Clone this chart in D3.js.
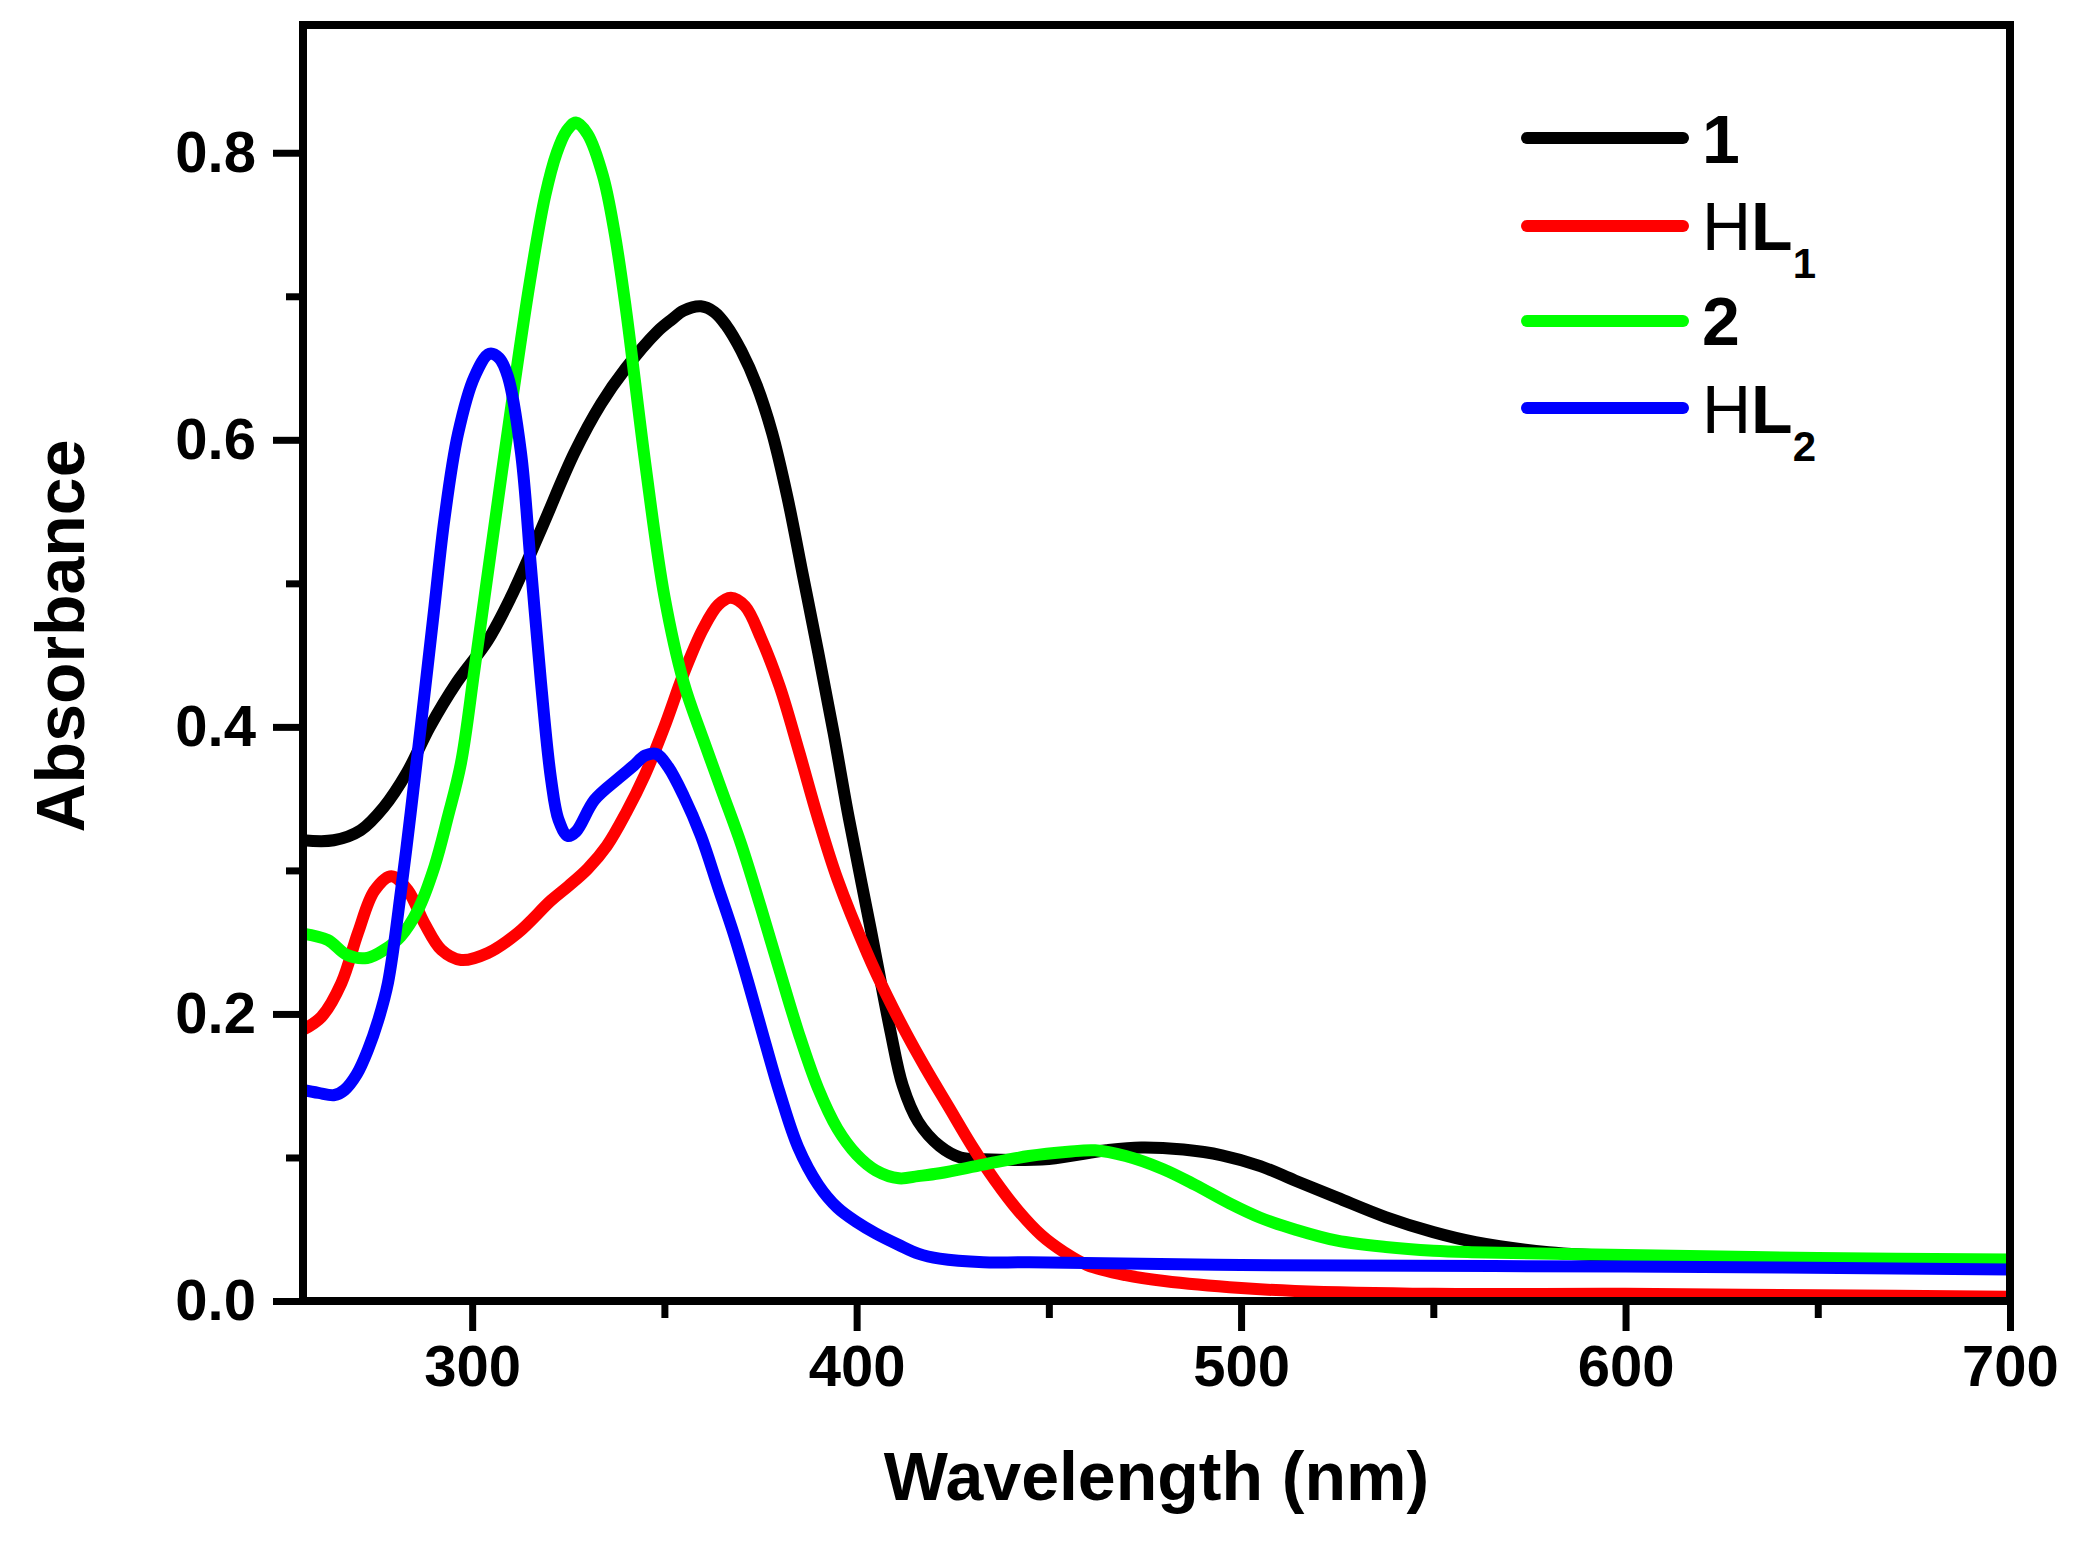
<!DOCTYPE html>
<html>
<head>
<meta charset="utf-8">
<script src="https://cdn.jsdelivr.net/npm/d3@7"></script>
<style>
  html, body { margin: 0; padding: 0; background: #fff; }
  svg text { font-family: "Liberation Sans", Arial, sans-serif; }
</style>
</head>
<body>
<svg id="chart" width="2080" height="1542"></svg>
<script>
// ---- data (wavelength nm, absorbance) ----
const wl1 = [256,264,271,277,283,289,296,304,310,318,326.6,333.5,340,348,352,355,359.5,363,366,370,374,378,382,386,390,394,398,403.6,408.8,412,416,421.6,427,433,450,465,474,485,495,505,514,525,537.6,550,561,580,600,650,700];
const abs1 = [0.321,0.321,0.328,0.344,0.368,0.400,0.431,0.46,0.49,0.538,0.591,0.625,0.65,0.675,0.684,0.69,0.693,0.689,0.68,0.662,0.638,0.605,0.56,0.506,0.452,0.396,0.336,0.26,0.188,0.15,0.125,0.108,0.1,0.0987,0.099,0.105,0.107,0.1055,0.1015,0.094,0.084,0.072,0.0585,0.048,0.041,0.034,0.031,0.029,0.028];

const wlHL1 = [256,260.8,266,270.3,274.6,279,283.3,287.6,292,297.1,304.1,311.9,320.5,325,330,335,340,345,350,355,360,364,367.3,371,375.1,380,385,390,395,402.8,408,413,418,424,430,436,442,448,454,460,470,480,500,514,550,600,650,700];
const absHL1 = [0.189,0.198,0.2216,0.2565,0.286,0.296,0.286,0.263,0.2446,0.2376,0.2425,0.2565,0.279,0.289,0.301,0.317,0.34,0.367,0.4,0.437,0.468,0.485,0.49,0.484,0.462,0.428,0.383,0.336,0.294,0.242,0.212,0.186,0.162,0.135,0.108,0.084,0.063,0.046,0.034,0.025,0.018,0.0139,0.009,0.007,0.005,0.005,0.004,0.003];

const wl2 = [256,262.4,267.5,272.7,277.1,281.4,285.9,290.2,293.7,297.1,300.6,305,310,315,319,322,324.5,327,330,334,337,340,345,350,355,360,365,370,375,380,385,390,395,400,405,411,416,421.6,433,444.8,455,462,470,479.6,488,497,505,514.4,525,537.6,550,560,600,650,700];
const abs2 = [0.256,0.2516,0.241,0.239,0.2446,0.254,0.2725,0.3027,0.3375,0.375,0.44,0.525,0.62,0.71,0.77,0.80,0.815,0.821,0.813,0.784,0.745,0.691,0.584,0.491,0.431,0.392,0.355,0.318,0.275,0.23,0.186,0.148,0.12,0.102,0.091,0.0855,0.087,0.089,0.095,0.101,0.104,0.105,0.101,0.092,0.081,0.068,0.058,0.0495,0.042,0.0376,0.035,0.034,0.032,0.030,0.029];

const wlHL2 = [256,260,264.2,266.8,270,272.9,275.5,278.1,281.6,284,286.8,290.2,292.8,296.3,300.6,304.5,307,309.3,312.7,315.3,317.9,320.5,322.5,324.9,327,331.8,338,342,345,348,351,355,359.5,364,368,372,376,380,384.8,390,395,400,405,411,416,421.6,433,445,500,600,700];
const absHL2 = [0.147,0.145,0.1435,0.147,0.158,0.175,0.195,0.2216,0.288,0.34,0.404,0.484,0.545,0.604,0.644,0.66,0.657,0.644,0.591,0.511,0.431,0.364,0.335,0.324,0.327,0.349,0.364,0.373,0.38,0.381,0.372,0.352,0.324,0.288,0.256,0.22,0.182,0.145,0.107,0.081,0.065,0.055,0.047,0.039,0.033,0.0295,0.027,0.027,0.025,0.024,0.022];

const seriesNames = ["1", "HL1", "2", "HL2"];
const seriesColors = ["#000000", "#ff0000", "#00ff00", "#0000ff"];
const xMajorTicks = [300, 400, 500, 600, 700];
const xMinorTicks = [350, 450, 550, 650];
const yMajorTicks = [0.0, 0.2, 0.4, 0.6, 0.8];
const yMinorTicks = [0.1, 0.3, 0.5, 0.7];
const xTitle = "Wavelength (nm)";
const yTitle = "Absorbance";

// ---- layout ----
const svg = d3.select("#chart");
const L = 303, R = 2010, T = 25, B = 1301;
const x = d3.scaleLinear().domain([256, 700]).range([L, R]);
const y = d3.scaleLinear().domain([0, 0.889]).range([B, T]);

const series = [
  {name: seriesNames[0], color: seriesColors[0], xs: wl1, ys: abs1},
  {name: seriesNames[1], color: seriesColors[1], xs: wlHL1, ys: absHL1},
  {name: seriesNames[2], color: seriesColors[2], xs: wl2, ys: abs2},
  {name: seriesNames[3], color: seriesColors[3], xs: wlHL2, ys: absHL2}
];

svg.append("defs").append("clipPath").attr("id", "clip")
  .append("rect").attr("x", L).attr("y", T).attr("width", R - L).attr("height", B - T);

const line = d3.line().x(d => x(d[0])).y(d => y(d[1])).curve(d3.curveCatmullRom.alpha(0.5));
const g = svg.append("g").attr("clip-path", "url(#clip)");
series.forEach(s => {
  g.append("path")
    .datum(s.xs.map((v, i) => [v, s.ys[i]]))
    .attr("fill", "none")
    .attr("stroke", s.color)
    .attr("stroke-width", 12)
    .attr("stroke-linejoin", "round")
    .attr("d", line);
});

// ---- axes ----
const fontMain = 58;
function styleAxis(sel) {
  sel.select(".domain").remove();
  sel.selectAll(".tick line").attr("stroke", "#000").attr("stroke-width", 7);
  sel.selectAll(".tick text").attr("font-size", fontMain).attr("font-weight", "bold").attr("fill", "#000")
     .attr("font-family", "'Liberation Sans', Arial, sans-serif");
}
svg.append("g").attr("transform", `translate(0,${B})`)
  .call(d3.axisBottom(x).tickValues(xMajorTicks).tickSize(30).tickPadding(14).tickFormat(d3.format("d")))
  .call(styleAxis);
svg.append("g").attr("transform", `translate(0,${B})`)
  .call(d3.axisBottom(x).tickValues(xMinorTicks).tickSize(17).tickFormat(""))
  .call(styleAxis);
svg.append("g").attr("transform", `translate(${L},0)`)
  .call(d3.axisLeft(y).tickValues(yMajorTicks).tickSize(30).tickPadding(17).tickFormat(d3.format(".1f")))
  .call(styleAxis);
svg.append("g").attr("transform", `translate(${L},0)`)
  .call(d3.axisLeft(y).tickValues(yMinorTicks).tickSize(17).tickFormat(""))
  .call(styleAxis);

// frame
svg.append("rect").attr("x", L).attr("y", T).attr("width", R - L).attr("height", B - T)
  .attr("fill", "none").attr("stroke", "#000").attr("stroke-width", 8);

// titles
svg.append("text").attr("x", (L + R) / 2).attr("y", 1500)
  .attr("text-anchor", "middle").attr("font-size", 68).attr("font-weight", "bold").text(xTitle);
svg.append("text").attr("transform", "translate(84,636) rotate(-90)")
  .attr("text-anchor", "middle").attr("font-size", 68).attr("font-weight", "bold").text(yTitle);

// ---- legend ----
const legendLineY = [138, 226, 321, 408];
const legendBase = [163, 250, 345, 433];
series.forEach((s, i) => {
  svg.append("line").attr("x1", 1527).attr("x2", 1683)
    .attr("y1", legendLineY[i]).attr("y2", legendLineY[i])
    .attr("stroke", s.color).attr("stroke-width", 12).attr("stroke-linecap", "round");
  const t = svg.append("text").attr("x", 1702).attr("y", legendBase[i]).attr("font-size", 68).attr("fill", "#000");
  if (s.name.startsWith("HL")) {
    t.append("tspan").attr("font-weight", "normal").text("H");
    t.append("tspan").attr("font-weight", "bold").text("L");
    t.append("tspan").attr("font-weight", "bold").attr("font-size", 42).attr("dy", 28).text(s.name.slice(2));
  } else {
    t.attr("font-weight", "bold").text(s.name);
  }
});
</script>
</body>
</html>
